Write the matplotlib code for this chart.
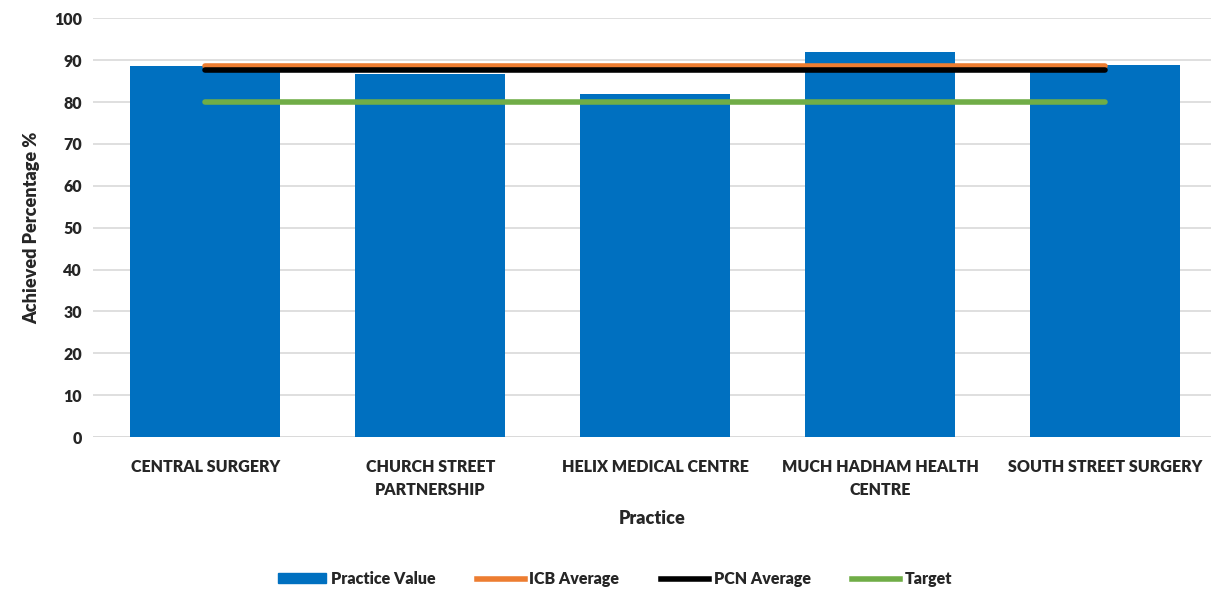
import matplotlib.pyplot as plt
from matplotlib.lines import Line2D
from matplotlib.patches import Patch

plt.rcParams["font.family"] = ["Lato", "DejaVu Sans"]
plt.rcParams["font.weight"] = "bold"

PRACTICES = [
    "CENTRAL SURGERY",
    "CHURCH STREET\nPARTNERSHIP",
    "HELIX MEDICAL CENTRE",
    "MUCH HADHAM HEALTH\nCENTRE",
    "SOUTH STREET SURGERY",
]
PRACTICE_VALUE = [88.5, 86.6, 81.9, 91.9, 88.8]
ICB_AVERAGE = [88.7] * 5
PCN_AVERAGE = [87.7] * 5
TARGET = [80.0] * 5

BLUE = "#0070C0"
ORANGE = "#ED7D31"
GREEN = "#70AD47"
TXT = "#262626"

fig = plt.figure(figsize=(12.11, 5.89), dpi=100)
ax = fig.add_axes([0.0768, 0.258, 0.923, 0.711])

x = list(range(len(PRACTICES)))
ax.bar(x, PRACTICE_VALUE, width=0.667, color=BLUE, zorder=2)
ax.plot(x, ICB_AVERAGE, color=ORANGE, lw=4, solid_capstyle="round", zorder=3)
ax.plot(x, PCN_AVERAGE, color="black", lw=4, solid_capstyle="round", zorder=3)
ax.plot(x, TARGET, color=GREEN, lw=4, solid_capstyle="round", zorder=3)

ax.set_ylim(0, 100)
ax.set_yticks(range(0, 101, 10))
ax.set_xlim(-0.5, 4.47)
ax.set_xticks(x)
ax.set_xticklabels(PRACTICES, fontsize=11.5, fontweight="heavy", color=TXT,
                   linespacing=1.5)
ax.tick_params(axis="both", length=0)
ax.tick_params(axis="x", pad=16)
ax.tick_params(axis="y", pad=8, labelsize=11.5)
for lab in ax.get_yticklabels():
    lab.set_fontweight("heavy")
    lab.set_color(TXT)
ax.grid(axis="y", color="#D9D9D9", lw=1.2, zorder=0)
for s in ax.spines.values():
    s.set_visible(False)
ax.axhline(0, color="#D9D9D9", lw=1.2, zorder=1)

ax.set_xlabel("Practice", fontsize=13, fontweight="heavy", color=TXT, labelpad=9)
ax.set_ylabel("Achieved Percentage %", fontsize=13, fontweight="heavy", color=TXT, labelpad=10)

handles = [
    Patch(color=BLUE, label="Practice Value"),
    Line2D([0], [0], color=ORANGE, lw=4, label="ICB Average"),
    Line2D([0], [0], color="black", lw=4, label="PCN Average"),
    Line2D([0], [0], color=GREEN, lw=4, label="Target"),
]
leg = fig.legend(handles=handles, loc="center", bbox_to_anchor=(0.508, 0.017), ncol=4,
                 frameon=False, fontsize=11.5, handlelength=3.0, handleheight=0.6,
                 columnspacing=2.6, handletextpad=0.3)
for t in leg.get_texts():
    t.set_fontweight("heavy")
    t.set_color(TXT)

fig.savefig("out.png", dpi=100, facecolor="white")
